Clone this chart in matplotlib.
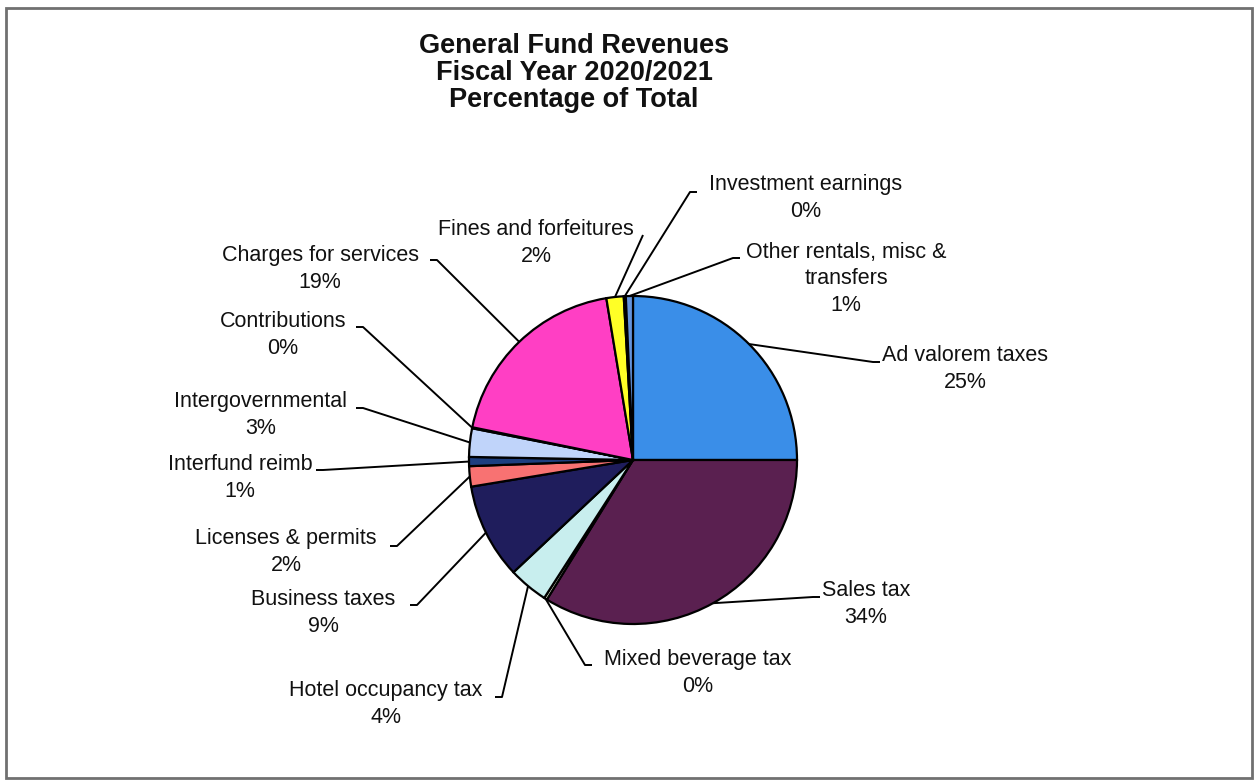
import numpy as np
import matplotlib.pyplot as plt
from matplotlib.patches import Rectangle

W, H = 1255, 780

# slices, clockwise from 12 o'clock
categories = [
    "Ad valorem taxes", "Sales tax", "Mixed beverage tax", "Hotel occupancy tax",
    "Business taxes", "Licenses & permits", "Interfund reimb", "Intergovernmental",
    "Contributions", "Charges for services", "Fines and forfeitures",
    "Investment earnings", "Other rentals, misc &\ntransfers",
]
shares = [25.0, 33.8, 0.3, 3.9, 9.4, 2.0, 0.9, 2.8, 0.1, 19.2, 1.7, 0.2, 0.7]
pct_labels = ["25%", "34%", "0%", "4%", "9%", "2%", "1%", "3%", "0%", "19%", "2%", "0%", "1%"]
colors = [
    "#3a8ee8", "#5a2050", "#e4f0d4", "#c8eeee", "#1f1d5c", "#f87272",
    "#1d3f80", "#c0d4fa", "#a0a0d0", "#ff3fc4", "#ffff26", "#2040a0", "#6494dc",
]
title_lines = ["General Fund Revenues", "Fiscal Year 2020/2021", "Percentage of Total"]

# label block centre (image pixels) and leader line end point (image pixels)
label_xy = [
    (965, 369), (866, 604), (698, 673), (386, 704), (323, 613), (286, 552),
    (240, 478), (261, 415), (283, 335), (320, 269), (536, 243), (806, 198), (846, 279),
]
line_end = [
    (873, 362), (813, 597), (585, 665), (502, 697), (417, 605), (397, 546),
    (323, 470), (363, 408), (363, 327), (437, 260), (643, 235), (690, 192), (733, 258),
]
tick_dir = [1, 1, 1, -1, -1, -1, -1, -1, -1, -1, 0, 1, 1]

plt.rcParams["font.family"] = ["Liberation Sans", "DejaVu Sans"]

fig = plt.figure(figsize=(W / 100, H / 100), dpi=100)
ax = fig.add_axes([0, 0, 1, 1])

cx, cy, r = 633, H - 460, 164
wedges, _ = ax.pie(
    shares, colors=colors, startangle=90, counterclock=False,
    center=(cx, cy), radius=r, frame=True,
    wedgeprops=dict(edgecolor="black", linewidth=1.6),
)
ax.set_xlim(0, W)
ax.set_ylim(0, H)
ax.set_aspect("equal")
ax.axis("off")

# leader lines and labels
for i, wdg in enumerate(wedges):
    mid = np.deg2rad((wdg.theta1 + wdg.theta2) / 2)
    x0, y0 = cx + r * np.cos(mid), cy + r * np.sin(mid)
    ex, ey = line_end[i]
    ey = H - ey
    xs, ys = [x0, ex], [y0, ey]
    if tick_dir[i] != 0:
        xs.append(ex + 7 * tick_dir[i])
        ys.append(ey)
    ax.plot(xs, ys, color="black", lw=1.4, solid_capstyle="butt")
    lx, ly = label_xy[i]
    ax.text(lx, H - ly, categories[i] + "\n" + pct_labels[i], ha="center", va="center",
            fontsize=15.5, linespacing=1.32, color="#111111")

for k, line in enumerate(title_lines):
    ax.text(574, H - (46 + 27 * k), line, ha="center", va="center",
            fontsize=19.5, fontweight="bold", color="#111111")

ax.add_patch(Rectangle((6, 2), 1246, H - 10, fill=False, edgecolor="#707070", lw=2))

fig.savefig("out.png", dpi=100)
